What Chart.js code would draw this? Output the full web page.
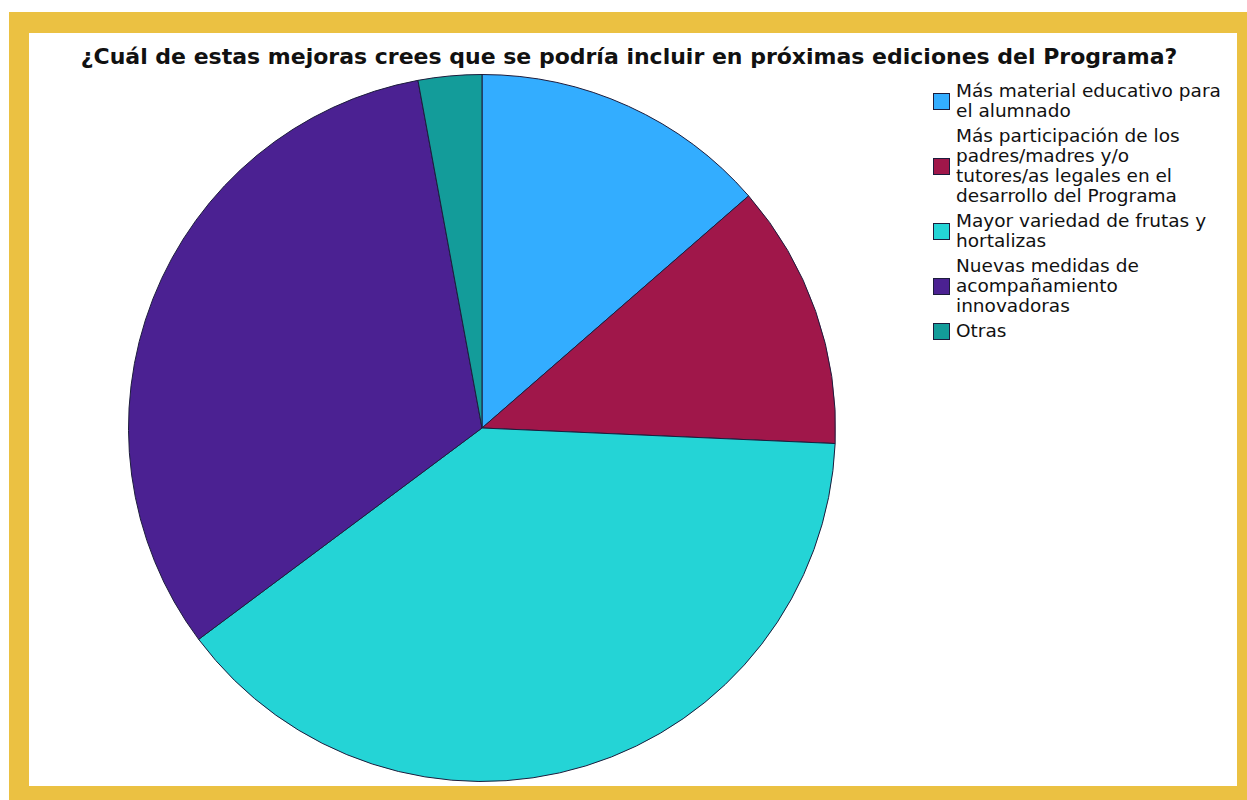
<!DOCTYPE html>
<html>
<head>
<meta charset="utf-8">
<script src="https://cdn.jsdelivr.net/npm/chart.js@4"></script>
<style>
  body { margin: 0; width: 1247px; height: 800px; background: #fff; position: relative; overflow: hidden; }
  #frame { position: absolute; left: 9px; top: 12px; width: 1238px; height: 788px; background: #ebc142; }
  #inner { position: absolute; left: 29px; top: 33px; width: 1208px; height: 753px; background: #fff; }
  #title { position: absolute; left: 29px; width: 1200px; top: 44px; text-align: center;
           font: bold 22px "DejaVu Sans", sans-serif; color: #111; white-space: nowrap; }
  #pie { position: absolute; left: 128px; top: 74px; }
  #legend { position: absolute; left: 933px; top: 81px; font: 18.5px "DejaVu Sans", sans-serif; color: #111; }
  .item { display: flex; align-items: center; margin-bottom: 5px; }
  .box { width: 17px; height: 17px; border: 1px solid #1c1c3c; box-sizing: border-box; margin-right: 6px; flex: none; }
  .txt { line-height: 20px; }
</style>
</head>
<body>
<div id="frame"></div>
<div id="inner"></div>
<div id="title">¿Cuál de estas mejoras crees que se podría incluir en próximas ediciones del Programa?</div>
<canvas id="pie" width="708" height="708"></canvas>
<div id="legend"></div>
<script>
// legend text, line breaks as in the picture
const categories = [
  ['Más material educativo para', 'el alumnado'],
  ['Más participación de los', 'padres/madres y/o', 'tutores/as legales en el', 'desarrollo del Programa'],
  ['Mayor variedad de frutas y', 'hortalizas'],
  ['Nuevas medidas de', 'acompañamiento', 'innovadoras'],
  ['Otras']
];
// percent of answers
const values = [13.6, 12.1, 39.1, 32.3, 2.9];
const colors = ['#33adff', '#a0174a', '#24d4d6', '#4b2192', '#139c9a'];

const legend = document.getElementById('legend');
categories.forEach((lines, i) => {
  const item = document.createElement('div');
  item.className = 'item';
  item.innerHTML = '<div class="box" style="background:' + colors[i] + '"></div>' +
    '<div class="txt">' + lines.join('<br>') + '</div>';
  legend.appendChild(item);
});

new Chart(document.getElementById('pie').getContext('2d'), {
  type: 'pie',
  data: {
    labels: categories.map(l => l.join(' ')),
    datasets: [{
      data: values,
      backgroundColor: colors,
      borderColor: '#1c1c3c',
      borderWidth: 1
    }]
  },
  options: {
    responsive: false,
    animation: false,
    layout: { padding: 0 },
    plugins: {
      legend: { display: false },
      tooltip: { enabled: false }
    }
  }
});
</script>
</body>
</html>
